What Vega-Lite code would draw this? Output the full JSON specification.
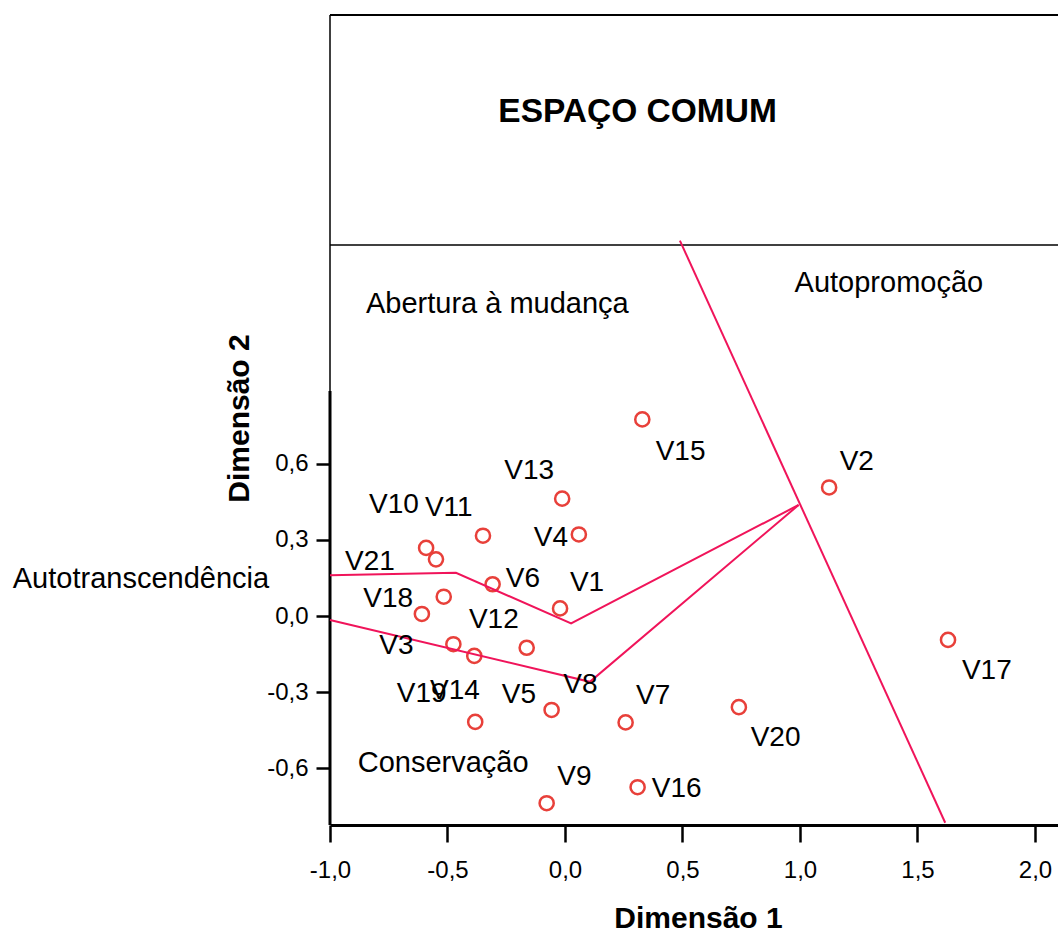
{
  "$schema": "https://vega.github.io/schema/vega-lite/v6.json",
  "width": 728,
  "height": 810,
  "autosize": {"type": "none"},
  "padding": {"left": 330, "top": 15, "right": 0, "bottom": 106},
  "background": "white",
  "config": {
    "view": {"stroke": null},
    "font": "Liberation Sans",
    "text": {"font": "Liberation Sans", "color": "#000000"}
  },
  "datasets": {
    "vars": [
      {"var": "V1", "x": -0.021, "y": 0.030, "lx": 0.021, "ly": 0.098},
      {"var": "V2", "x": 1.124, "y": 0.506, "lx": 1.169, "ly": 0.575},
      {"var": "V3", "x": -0.475, "y": -0.111, "lx": -0.790, "ly": -0.150},
      {"var": "V4", "x": 0.059, "y": 0.321, "lx": -0.133, "ly": 0.277},
      {"var": "V5", "x": -0.057, "y": -0.370, "lx": -0.269, "ly": -0.344},
      {"var": "V6", "x": -0.308, "y": 0.125, "lx": -0.252, "ly": 0.113},
      {"var": "V7", "x": 0.258, "y": -0.419, "lx": 0.302, "ly": -0.346},
      {"var": "V8", "x": -0.163, "y": -0.125, "lx": -0.007, "ly": -0.302},
      {"var": "V9", "x": -0.078, "y": -0.737, "lx": -0.033, "ly": -0.665},
      {"var": "V10", "x": -0.591, "y": 0.268, "lx": -0.834, "ly": 0.407},
      {"var": "V11", "x": -0.349, "y": 0.316, "lx": -0.596, "ly": 0.394},
      {"var": "V12", "x": -0.516, "y": 0.076, "lx": -0.409, "ly": -0.048},
      {"var": "V13", "x": -0.012, "y": 0.462, "lx": -0.258, "ly": 0.538},
      {"var": "V14", "x": -0.386, "y": -0.157, "lx": -0.574, "ly": -0.328},
      {"var": "V15", "x": 0.329, "y": 0.774, "lx": 0.386, "ly": 0.614},
      {"var": "V16", "x": 0.309, "y": -0.674, "lx": 0.369, "ly": -0.711},
      {"var": "V17", "x": 1.630, "y": -0.094, "lx": 1.689, "ly": -0.249},
      {"var": "V18", "x": -0.609, "y": 0.008, "lx": -0.858, "ly": 0.034},
      {"var": "V19", "x": -0.382, "y": -0.417, "lx": -0.716, "ly": -0.337},
      {"var": "V20", "x": 0.740, "y": -0.359, "lx": 0.790, "ly": -0.512},
      {"var": "V21", "x": -0.549, "y": 0.223, "lx": -0.936, "ly": 0.181}
    ],
    "lines": [
      {"line": "A", "ord": 1, "x": 0.489, "y": 1.478},
      {"line": "A", "ord": 2, "x": 1.618, "y": -0.814},
      {"line": "B", "ord": 1, "x": -1.0, "y": 0.160},
      {"line": "B", "ord": 2, "x": -0.464, "y": 0.170},
      {"line": "B", "ord": 3, "x": 0.026, "y": -0.029},
      {"line": "B", "ord": 4, "x": 0.994, "y": 0.437},
      {"line": "C", "ord": 1, "x": -1.0, "y": -0.016},
      {"line": "C", "ord": 2, "x": 0.106, "y": -0.259},
      {"line": "C", "ord": 3, "x": 0.994, "y": 0.437}
    ],
    "regions": [
      {"label": "Abertura à mudança", "x": -0.847, "y": 1.192},
      {"label": "Autopromoção", "x": 0.977, "y": 1.277},
      {"label": "Autotranscendência", "x": -2.350, "y": 0.109},
      {"label": "Conservação", "x": -0.882, "y": -0.615}
    ],
    "title": [
      {"label": "ESPAÇO COMUM", "x": 0.309, "y": 1.946}
    ],
    "frame": [
      {"x": -1, "ybot": -0.8228, "ytop": 2.3661, "yaxis": 0.886, "ymid": 1.461}
    ]
  },
  "layer": [
    {
      "data": {"name": "vars"},
      "mark": {"type": "point", "shape": "circle", "filled": false, "color": "#E8403A", "strokeWidth": 2.5, "size": 200, "opacity": 1},
      "encoding": {
        "x": {
          "field": "x", "type": "quantitative",
          "scale": {"domain": [-1, 2.098], "nice": false, "zero": false},
          "axis": {
            "title": "Dimensão 1",
            "values": [-1, -0.5, 0, 0.5, 1, 1.5, 2],
            "labelExpr": "replace(replace(format(datum.value, '.1f'), '.', ','), '\u2212', '-')",
            "grid": false,
            "domain": true,
            "domainColor": "#000000", "domainWidth": 3,
            "ticks": true,
            "tickColor": "#000000", "tickWidth": 2.5, "tickSize": 17,
            "labelPadding": 16, "labelFontSize": 24, "labelColor": "#000000", "labelFont": "Liberation Sans",
            "labelFlush": false, "labelOverlap": false,
            "titleFont": "Liberation Sans", "titleFontSize": 30, "titleFontWeight": "bold", "titleColor": "#000000",
            "titleX": 368, "titleY": 102, "titleBaseline": "alphabetic", "titleAlign": "center"
          }
        },
        "y": {
          "field": "y", "type": "quantitative",
          "scale": {"domain": [-0.8228, 2.3661], "nice": false, "zero": false},
          "axis": {
            "title": "Dimensão 2",
            "values": [-0.6, -0.3, 0, 0.3, 0.6],
            "labelExpr": "replace(replace(format(datum.value, '.1f'), '.', ','), '\u2212', '-')",
            "grid": false,
            "domain": false,
            "ticks": true,
            "tickColor": "#000000", "tickWidth": 2.5, "tickSize": 14,
            "labelPadding": 8, "labelFontSize": 24, "labelColor": "#000000", "labelFont": "Liberation Sans",
            "labelOverlap": false,
            "titleFont": "Liberation Sans", "titleFontSize": 30, "titleFontWeight": "bold", "titleColor": "#000000",
            "titleAngle": 270, "titleX": -81.7, "titleY": 403, "titleBaseline": "alphabetic", "titleAlign": "center"
          }
        }
      }
    },
    {
      "data": {"name": "frame"},
      "mark": {"type": "rule", "color": "#000000", "strokeWidth": 2},
      "encoding": {
        "y": {"field": "ytop", "type": "quantitative"}
      }
    },
    {
      "data": {"name": "frame"},
      "mark": {"type": "rule", "color": "#000000", "strokeWidth": 1.5},
      "encoding": {
        "y": {"field": "ymid", "type": "quantitative"}
      }
    },
    {
      "data": {"name": "frame"},
      "mark": {"type": "rule", "color": "#000000", "strokeWidth": 1.5},
      "encoding": {
        "x": {"field": "x", "type": "quantitative"},
        "y": {"field": "ybot", "type": "quantitative"},
        "y2": {"field": "ytop"}
      }
    },
    {
      "data": {"name": "frame"},
      "mark": {"type": "rule", "color": "#000000", "strokeWidth": 3},
      "encoding": {
        "x": {"field": "x", "type": "quantitative"},
        "y": {"field": "ybot", "type": "quantitative"},
        "y2": {"field": "yaxis"}
      }
    },
    {
      "data": {"name": "lines"},
      "mark": {"type": "line", "color": "#F0145A", "strokeWidth": 2},
      "encoding": {
        "x": {"field": "x", "type": "quantitative"},
        "y": {"field": "y", "type": "quantitative"},
        "detail": {"field": "line"},
        "order": {"field": "ord", "type": "quantitative"}
      }
    },
    {
      "data": {"name": "vars"},
      "mark": {"type": "text", "align": "left", "baseline": "alphabetic", "fontSize": 28, "color": "#000000"},
      "encoding": {
        "x": {"field": "lx", "type": "quantitative"},
        "y": {"field": "ly", "type": "quantitative"},
        "text": {"field": "var"}
      }
    },
    {
      "data": {"name": "regions"},
      "mark": {"type": "text", "align": "left", "baseline": "alphabetic", "fontSize": 29, "color": "#000000"},
      "encoding": {
        "x": {"field": "x", "type": "quantitative"},
        "y": {"field": "y", "type": "quantitative"},
        "text": {"field": "label"}
      }
    },
    {
      "data": {"name": "title"},
      "mark": {"type": "text", "align": "center", "baseline": "alphabetic", "fontSize": 33.5, "fontWeight": "bold", "color": "#000000"},
      "encoding": {
        "x": {"field": "x", "type": "quantitative"},
        "y": {"field": "y", "type": "quantitative"},
        "text": {"field": "label"}
      }
    }
  ]
}
